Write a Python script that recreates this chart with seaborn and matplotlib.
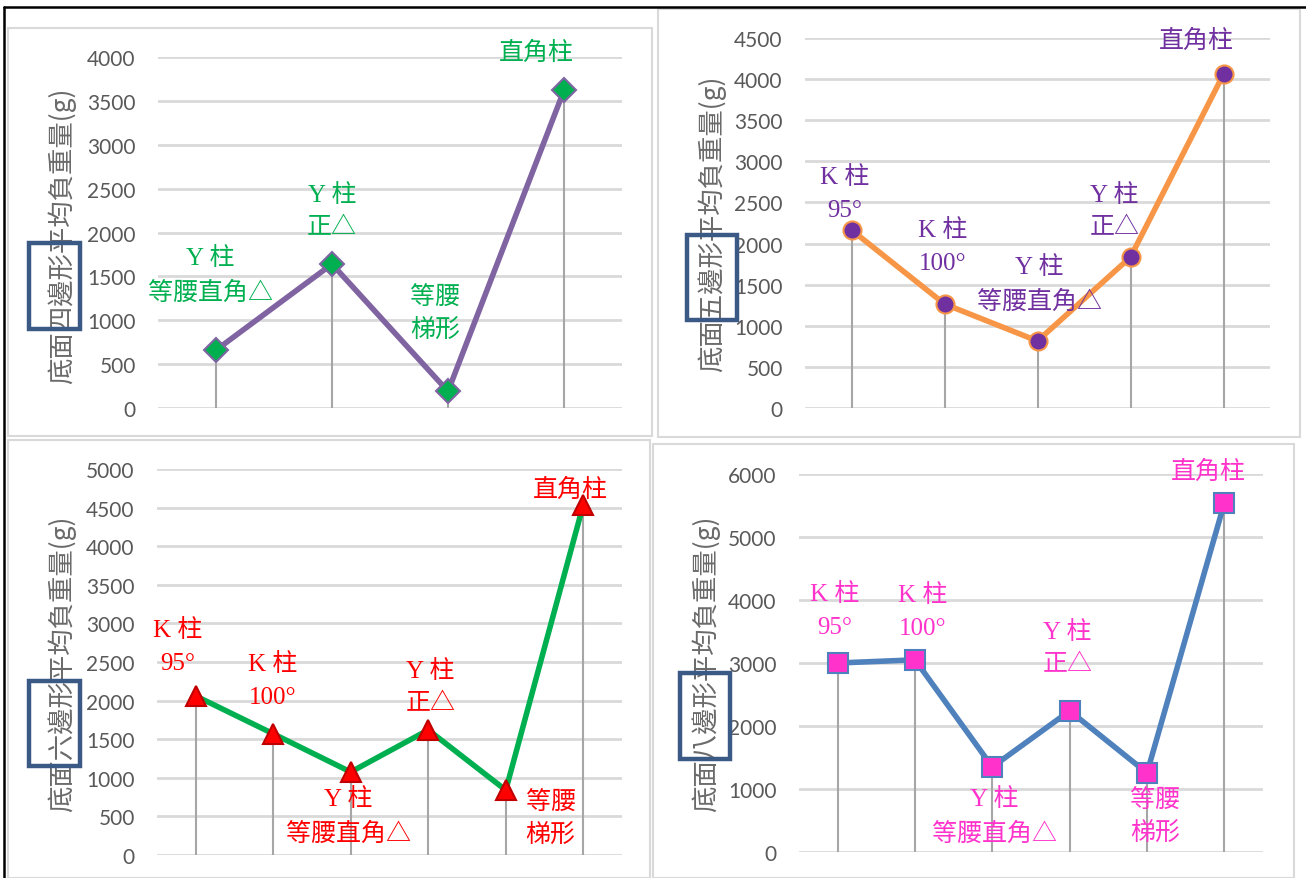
import numpy as np
import pandas as pd
import seaborn as sns
import matplotlib.pyplot as plt
from matplotlib.patches import Rectangle
from matplotlib.lines import Line2D

# chart data: average load (g) per column type, one panel per base polygon
quad_labels = ["Y 柱\n等腰直角△", "Y 柱\n正△", "等腰\n梯形", "直角柱"]
quad_values = [660, 1640, 190, 3620]

penta_labels = ["K 柱\n95°", "K 柱\n100°", "Y 柱\n等腰直角△", "Y 柱\n正△", "直角柱"]
penta_values = [2165, 1265, 815, 1835, 4060]

hexa_labels = ["K 柱\n95°", "K 柱\n100°", "Y 柱\n等腰直角△", "Y 柱\n正△", "等腰\n梯形", "直角柱"]
hexa_values = [2060, 1570, 1075, 1620, 840, 4535]

octa_labels = ["K 柱\n95°", "K 柱\n100°", "Y 柱\n等腰直角△", "Y 柱\n正△", "等腰\n梯形", "直角柱"]
octa_values = [3000, 3050, 1350, 2240, 1255, 5540]

ylabels = ["底面四邊形平均負重量(g)", "底面五邊形平均負重量(g)",
           "底面六邊形平均負重量(g)", "底面八邊形平均負重量(g)"]
ymax = [4000, 4500, 5000, 6000]
ystep = [500, 500, 500, 1000]

W, H = 1306, 879
sns.set_theme(style="white")
plt.rcParams['font.family'] = ['Lato', 'Noto Sans CJK TC', 'DejaVu Sans']
LABEL_FONT = ['Liberation Serif', 'Noto Sans CJK TC', 'DejaVu Sans']
CJK_FONT = ['Noto Sans CJK TC', 'DejaVu Sans']

fig = plt.figure(figsize=(W / 100, H / 100), dpi=100)


def fx(px):
    return px / W


def fy(py):
    return 1 - py / H


# panel settings: plot box in pixels, styles, label offsets (dx in categories, y in data)
panels = [
    dict(labels=quad_labels, values=quad_values, box=(158, 58, 622, 409),
         frame=(8, 29, 652, 437), line="#8064A2", marker="D", ms=12,
         mface="#00B050", medge="#8064A2", text="#00B050",
         ylab_x=62, ylab_y=236, rect=(29, 244, 80, 330),
         lpos=[(-0.05, 1516), (0.0, 2245), (-0.11, 1083), (-0.24, 4057)]),
    dict(labels=penta_labels, values=penta_values, box=(805, 39, 1270, 409),
         frame=(658, 10, 1300, 438), line="#F79646", marker="o", ms=13,
         mface="#7030A0", medge="#F79646", text="#7030A0",
         ylab_x=712, ylab_y=224, rect=(687, 236, 737, 321),
         lpos=[(-0.075, 2615), (-0.02, 1970), (0.02, 1508), (-0.17, 2396), (-0.29, 4476)]),
    dict(labels=hexa_labels, values=hexa_values, box=(157, 470, 622, 856),
         frame=(8, 441, 650, 879), line="#00B050", marker="^", ms=14,
         mface="#FF0000", medge="#C00000", text="#FF0000",
         ylab_x=62, ylab_y=664, rect=(29, 682, 80, 767),
         lpos=[(-0.23, 2707), (-0.01, 2267), (-0.03, 505), (0.03, 2176), (0.58, 479), (-0.17, 4741)]),
    dict(labels=octa_labels, values=octa_values, box=(799, 475, 1263, 853),
         frame=(653, 445, 1294, 879), line="#4F81BD", marker="s", ms=14,
         mface="#FF33CC", medge="#4F81BD", text="#FF33CC",
         ylab_x=706, ylab_y=664, rect=(680, 674, 730, 760),
         lpos=[(-0.04, 3841), (0.1, 3825), (0.03, 571), (-0.03, 3238), (0.1, 571), (-0.21, 6048)]),
]

for i, p in enumerate(panels):
    # light grey chart frame
    x0, y0, x1, y1 = p["frame"]
    fig.patches.append(Rectangle((fx(x0), fy(y1)), fx(x1 - x0), (y1 - y0) / H,
                                 transform=fig.transFigure, fill=False,
                                 edgecolor="#D9D9D9", linewidth=1.5, zorder=0))

    bx0, by0, bx1, by1 = p["box"]
    ax = fig.add_axes([fx(bx0), fy(by1), fx(bx1 - bx0), (by1 - by0) / H])
    ax.set_facecolor("none")

    n = len(p["values"])
    df = pd.DataFrame({"x": np.arange(n), "y": p["values"]})

    # drop lines from each point to the axis
    ax.vlines(df["x"], 0, df["y"], color="#A6A6A6", linewidth=1.5, zorder=2)

    sns.lineplot(data=df, x="x", y="y", ax=ax, color=p["line"], linewidth=4,
                 marker=p["marker"], markersize=p["ms"], markerfacecolor=p["mface"],
                 markeredgecolor=p["medge"], markeredgewidth=1.5, zorder=3)

    for k, (lab, (dx, yy)) in enumerate(zip(p["labels"], p["lpos"])):
        ax.text(k + dx, yy, lab, ha="center", va="center", color=p["text"],
                fontsize=18, family=LABEL_FONT, linespacing=1.6, zorder=5)

    ax.set_xlim(-0.5, n - 0.5)
    ax.set_ylim(0, ymax[i])
    ax.set_yticks(np.arange(0, ymax[i] + 1, ystep[i]))
    ax.set_xticks([])
    ax.yaxis.grid(True, color="#D9D9D9", linewidth=2)
    ax.set_axisbelow(True)
    for s in ax.spines.values():
        s.set_visible(False)
    ax.tick_params(axis="y", length=0, pad=16, labelsize=15, labelcolor="#595959")
    ax.set_xlabel("")
    ax.set_ylabel("")

    fig.text(fx(p["ylab_x"]), fy(p["ylab_y"]), ylabels[i], rotation=90,
             ha="center", va="center", fontsize=19, color="#6A6A6A", family=CJK_FONT)

    # dark blue highlight box on the polygon name
    rx0, ry0, rx1, ry1 = p["rect"]
    fig.patches.append(Rectangle((fx(rx0), fy(ry1)), fx(rx1 - rx0), (ry1 - ry0) / H,
                                 transform=fig.transFigure, fill=False,
                                 edgecolor="#3A5A85", linewidth=3.2, zorder=10))

# black page border on the top and left edges
fig.lines.append(Line2D([fx(4), 1], [fy(8), fy(8)], transform=fig.transFigure,
                        color="black", linewidth=1.8))
fig.lines.append(Line2D([fx(4), fx(4)], [fy(8), 0], transform=fig.transFigure,
                        color="black", linewidth=1.8))

fig.savefig("out.png", dpi=100)
